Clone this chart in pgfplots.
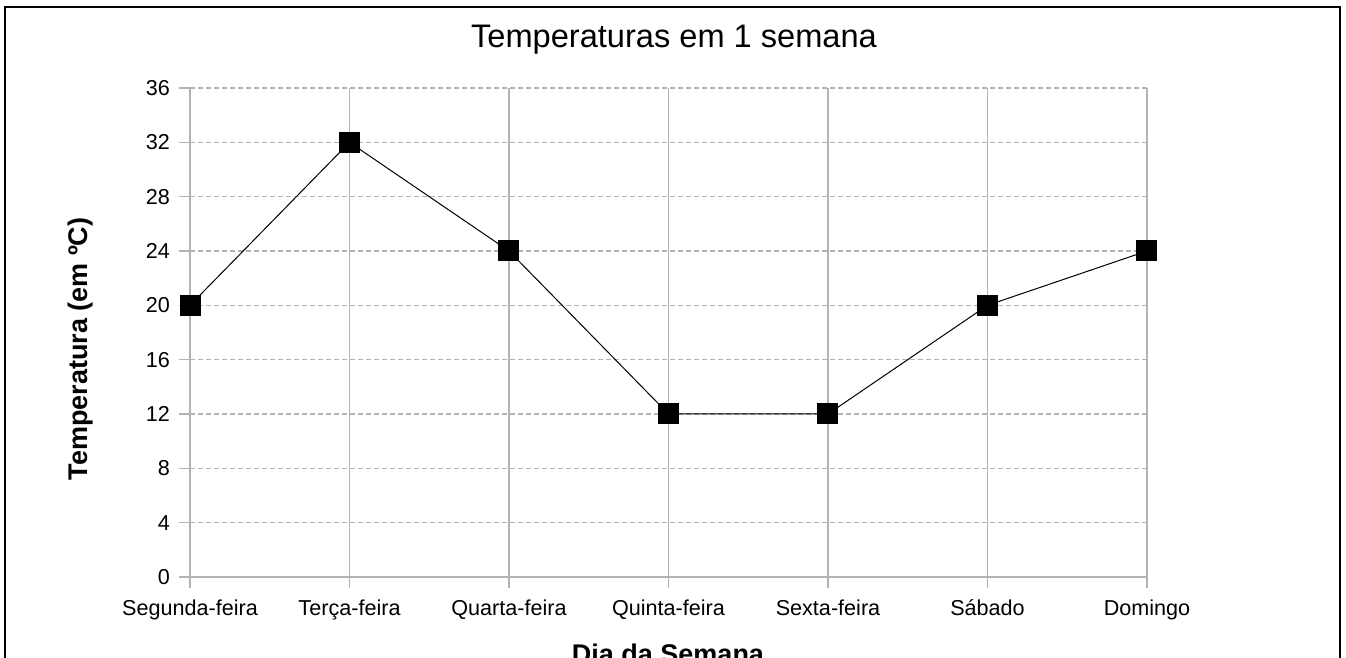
\documentclass[border=0pt]{standalone}
\usepackage{pgfplots}
\pgfplotsset{compat=1.18}
\usepackage{fontspec}
\setmainfont{Liberation Sans}
\definecolor{gridgray}{HTML}{B3B3B3}
\begin{document}
\begin{tikzpicture}
\useasboundingbox (0,0) rectangle (673pt,329pt);
\clip (0,0) rectangle (673pt,329pt);
\begin{axis}[
  at={(95pt,40.5pt)}, anchor=south west,
  scale only axis,
  width=478.5pt, height=244.5pt,
  xmin=0, xmax=6, ymin=0, ymax=36,
  axis lines*=left,
  axis line style={gridgray, line width=0.6pt},
  xtick={0,1,2,3,4,5,6},
  xticklabels={Segunda-feira,Terça-feira,Quarta-feira,Quinta-feira,Sexta-feira,Sábado,Domingo},
  ytick={0,4,8,12,16,20,24,28,32,36},
  tick align=outside,
  major tick length=5.5pt,
  tick style={gridgray, line width=0.6pt},
  xmajorgrids, ymajorgrids,
  x grid style={gridgray, line width=0.6pt},
  y grid style={gridgray, line width=0.6pt, dash pattern=on 2.5pt off 1.5pt},
  /pgf/number format/assume math mode=true,
  ticklabel style={font=\fontsize{10.8}{13}\selectfont, text=black},
  xticklabel style={yshift=-2.5pt},
  yticklabel style={xshift=-1pt},
  clip=false,
]
\addplot[black, line width=0.5pt, mark=square*, mark size=5pt, mark options={fill=black, solid}]
  coordinates {(0,20) (1,32) (2,24) (3,12) (4,12) (5,20) (6,24)};
\end{axis}
\node at (337pt,309pt) {\fontsize{16.3}{19}\selectfont Temperaturas em 1 semana};
\node[rotate=90] at (40.5pt,154.5pt) {\fontsize{13.5}{16}\selectfont\bfseries Temperatura (em ºC)};
\node[anchor=base] at (334pt,-3pt) {\fontsize{13.5}{16}\selectfont\bfseries Dia da Semana};
\draw[black, line width=1pt] (2.5pt,-10pt) rectangle (670pt,325.5pt);
\end{tikzpicture}
\end{document}
